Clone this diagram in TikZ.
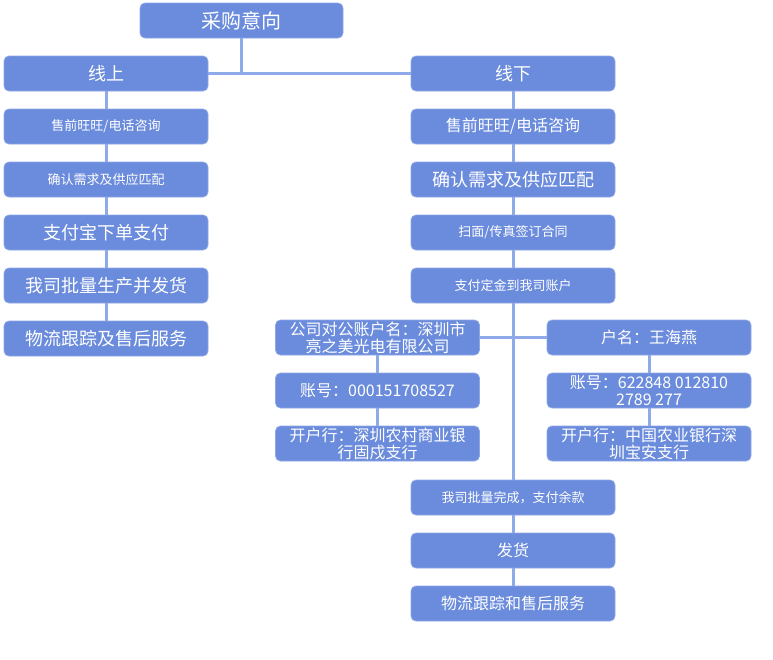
\documentclass[tikz,border=0pt]{standalone}
\usepackage{fontspec}
\setmainfont{Noto Sans CJK SC}
\usetikzlibrary{positioning}
\definecolor{boxblue}{HTML}{6B8CDC}
\definecolor{boxedge}{HTML}{8DA7E6}
\definecolor{lineblue}{HTML}{8FAAE8}
\newcommand{\fsz}[1]{\fontsize{#1}{17}\selectfont}

\begin{document}
\begin{tikzpicture}[x=1pt,y=-1pt,
  box/.style={draw=boxedge, line width=0.8pt, fill=boxblue, rounded corners=5pt,
    minimum width=204pt, minimum height=35pt, inner sep=1pt, text=white, align=center},
  link/.style={draw=lineblue, line width=3pt}]
\useasboundingbox (0,0) rectangle (773,659);
% top and the two branches
\node[box, minimum width=203pt, font=\fsz{20}] (want) at (241.5,20.5) {采购意向};
\node[box, font=\fsz{18}] (online) at (106,73.5) {线上};
\node[box, font=\fsz{18}] (offline) at (513,73.5) {线下};
% online chain
\node[box, font=\fsz{13}] (l1) at (106,126.5) {售前旺旺/电话咨询};
\node[box, font=\fsz{13}] (l2) at (106,179.5) {确认需求及供应匹配};
\node[box, font=\fsz{18}] (l3) at (106,232.5) {支付宝下单支付};
\node[box, font=\fsz{18}] (l4) at (106,285.5) {我司批量生产并发货};
\node[box, font=\fsz{18}] (l5) at (106,338.5) {物流跟踪及售后服务};
% offline chain
\node[box, font=\fsz{16}] (r1) at (513,126.5) {售前旺旺/电话咨询};
\node[box, font=\fsz{18}] (r2) at (513,179.5) {确认需求及供应匹配};
\node[box, font=\fsz{13}] (r3) at (513,232.5) {扫面/传真签订合同};
\node[box, font=\fsz{13}] (r4) at (513,285.5) {支付定金到我司账户};
\node[box, font=\fsz{13}] (r5) at (513,497.5) {我司批量完成，支付余款};
\node[box, font=\fsz{16}] (r6) at (513,550.5) {发货};
\node[box, font=\fsz{16}] (r7) at (513,603.5) {物流跟踪和售后服务};
% accounts
\node[box, font=\fsz{16}] (a1) at (377.5,337.5) {公司对公账户名：深圳市\\亮之美光电有限公司};
\node[box, font=\fsz{16}] (a2) at (377.5,390.5) {账号：000151708527};
\node[box, font=\fsz{16}] (a3) at (377.5,443.5) {开户行：深圳农村商业银\\行固戍支行};
\node[box, font=\fsz{16}] (b1) at (649,337.5) {户名：王海燕};
\node[box, font=\fsz{16}] (b2) at (649,390.5) {账号：622848 012810\\2789 277};
\node[box, font=\fsz{16}] (b3) at (649,443.5) {开户行：中国农业银行深\\圳宝安支行};
% connectors
\coordinate (hub) at (want.south |- online.east);
\draw[link] (want.south) -- (hub);
\draw[link] (online.east) -- (offline.west);
\draw[link] (a1.east) -- (b1.west);
\foreach \a/\b in {online/l1,l1/l2,l2/l3,l3/l4,l4/l5,offline/r1,r1/r2,r2/r3,r3/r4,r4/r5,r5/r6,r6/r7,a1/a2,a2/a3,b1/b2,b2/b3}
  \draw[link] (\a.south) -- (\b.north);
\end{tikzpicture}
\end{document}
